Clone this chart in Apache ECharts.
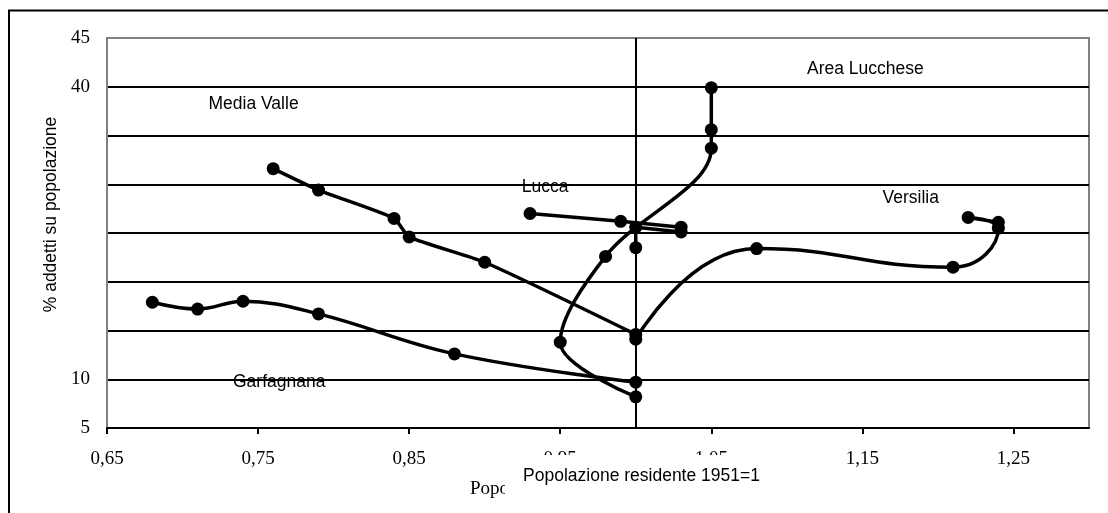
<!DOCTYPE html>
<html>
<head>
<meta charset="utf-8">
<script src="https://cdn.jsdelivr.net/npm/echarts@6/dist/echarts.min.js"></script>
<style>
  html, body { margin: 0; padding: 0; background: #fff; }
  #chart { width: 1108px; height: 513px; }
</style>
</head>
<body>
<div id="chart"></div>
<script>
// Trajectories: [population (1951 = 1), % employed on population]
const garfagnana   = [[0.68, 17.9], [0.71, 17.2], [0.74, 18.0], [0.79, 16.7], [0.88, 12.6], [1.00, 9.7]];
const mediaValle   = [[0.76, 31.6], [0.79, 29.4], [0.84, 26.5], [0.85, 24.6], [0.90, 22.0], [1.00, 14.6]];
const lucca        = [[1.00, 23.5], [1.00, 25.6], [1.03, 25.1], [1.03, 25.6], [0.99, 26.2], [0.93, 27.0]];
const versilia     = [[1.00, 14.1], [1.08, 23.4], [1.21, 21.5], [1.24, 25.5], [1.22, 26.6], [1.24, 26.1]];
const areaLucchese = [[1.00, 8.2], [0.95, 13.8], [0.98, 22.6], [1.05, 33.7], [1.05, 35.6], [1.05, 39.9]];

// Area names and the data point each name is centred on
const regionNames  = ['Garfagnana', 'Media Valle', 'Lucca', 'Versilia', 'Area Lucchese'];
const labelAnchors = [[0.764, 9.7], [0.747, 38.2], [0.940, 29.7], [1.182, 28.6], [1.152, 41.8]];

// Axis ticks
const xTicks = [0.65, 0.75, 0.85, 0.95, 1.05, 1.15, 1.25];
const yLabelled = [5, 10, 40, 45];

const xTitle = 'Popolazione residente 1951=1';
const yTitle = '% addetti su popolazione';

const SANS = 'Liberation Sans';
const SERIF = 'Liberation Serif';

const chart = echarts.init(document.getElementById('chart'), null, { renderer: 'canvas' });

function trajectory(name, data, smooth) {
  return {
    name: name,
    type: 'line',
    data: data,
    smooth: smooth,
    symbol: 'circle',
    symbolSize: 13,
    showAllSymbol: true,
    lineStyle: { color: '#000', width: 3.5 },
    itemStyle: { color: '#000' },
    emphasis: { disabled: true },
    z: 3
  };
}

const series = [
  trajectory('Garfagnana', garfagnana, 0.4),
  trajectory('Media Valle', mediaValle, 0.2),
  trajectory('Lucca', lucca, false),
  trajectory('Versilia', versilia, 0.5),
  trajectory('Area Lucchese', areaLucchese, 0.35)
];

// Vertical reference at population = 1
series[0].markLine = {
  silent: true,
  symbol: ['none', 'none'],
  label: { show: false },
  lineStyle: { color: '#000', width: 2, type: 'solid' },
  data: [{ xAxis: 1 }]
};

chart.setOption({
  animation: false,
  backgroundColor: '#fff',
  grid: {
    left: 107, right: 19, top: 38, bottom: 85,
    show: true, borderColor: '#808080', borderWidth: 2
  },
  xAxis: {
    type: 'value',
    min: 0.65,
    max: 1.30,
    name: xTitle,
    nameLocation: 'middle',
    nameGap: 52,
    nameTextStyle: { fontFamily: SERIF, fontSize: 19, color: '#000', padding: [0, 26, 0, 0] },
    axisLine: { show: true, onZero: false, lineStyle: { color: '#000', width: 2 } },
    axisTick: { show: true, customValues: xTicks, length: 6, lineStyle: { color: '#000', width: 2 } },
    axisLabel: {
      customValues: xTicks,
      formatter: v => v.toFixed(2).replace('.', ','),
      fontFamily: SERIF, fontSize: 19, color: '#000', margin: 22
    },
    splitLine: { show: false }
  },
  yAxis: {
    type: 'value',
    min: 5,
    max: 45,
    interval: 5,
    name: yTitle,
    nameLocation: 'middle',
    nameRotate: 90,
    nameGap: 40,
    nameTextStyle: { fontFamily: SANS, fontSize: 17.5, color: '#000', padding: [0, 0, 0, 37] },
    axisLine: { show: true, lineStyle: { color: '#808080', width: 2 } },
    axisTick: { show: false },
    axisLabel: {
      formatter: v => (yLabelled.indexOf(v) >= 0 ? String(v) : ''),
      fontFamily: SERIF, fontSize: 19, color: '#000', margin: 17
    },
    splitLine: {
      show: true, showMinLine: false, showMaxLine: false,
      lineStyle: { color: '#000', width: 2 }
    }
  },
  series: series
});

// Area names placed in data space, plus the caption box and page frame
const graphics = regionNames.map((name, i) => {
  const p = chart.convertToPixel({ gridIndex: 0 }, labelAnchors[i]);
  return {
    type: 'text',
    x: p[0], y: p[1],
    z: 50,
    style: {
      text: name, fill: '#000',
      font: '17.5px "' + SANS + '"',
      align: 'center', verticalAlign: 'middle'
    }
  };
});

graphics.push({
  type: 'rect',
  z: 90,
  shape: { x: 505, y: 455, width: 280, height: 50 },
  style: { fill: '#fff', stroke: null }
});
graphics.push({
  type: 'text',
  z: 91,
  x: 641.5, y: 476,
  style: {
    text: xTitle, fill: '#000',
    font: '17.5px "' + SANS + '"',
    align: 'center', verticalAlign: 'middle'
  }
});
graphics.push({
  type: 'rect',
  z: 100,
  shape: { x: 9, y: 10.5, width: 1200, height: 600 },
  style: { fill: 'none', stroke: '#000', lineWidth: 2 }
});

chart.setOption({ graphic: graphics });
</script>
</body>
</html>
